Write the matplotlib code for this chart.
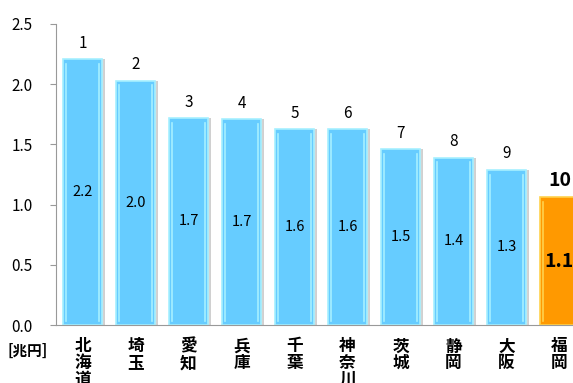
import matplotlib.pyplot as plt
import numpy as np

plt.rcParams['font.family'] = ['Noto Sans CJK JP', 'DejaVu Sans']

# 都道府県別の値（兆円）
prefs = ['北海道', '埼玉', '愛知', '兵庫', '千葉', '神奈川', '茨城', '静岡', '大阪', '福岡']
values = [2.21, 2.03, 1.72, 1.71, 1.63, 1.63, 1.46, 1.39, 1.29, 1.06]
ranks = [1, 2, 3, 4, 5, 6, 7, 8, 9, 10]
highlight = '福岡'

fig = plt.figure(figsize=(5.73, 3.83), dpi=100)
ax = fig.add_axes([56 / 573, 1 - 325 / 383, 530 / 573, 301 / 383])

x = np.arange(len(prefs))
w = 0.74
face = ['#FF9900' if p == highlight else '#66CCFF' for p in prefs]
rim = ['#FFD24D' if p == highlight else '#A6F0FF' for p in prefs]

# shadow on the right side of each bar
ax.bar(x + 0.06, values, w, color='#BDBDBD', alpha=0.7, zorder=1)
ax.bar(x + 0.03, values, w, color='#D5D5D5', alpha=0.7, zorder=1)
ax.bar(x, values, w, color=face, edgecolor=rim, linewidth=1.2, zorder=2)
# bevel highlight lines
for xi, v, r in zip(x, values, rim):
    ax.plot([xi - w / 2 + 0.06] * 2, [0.03, v - 0.04], color=r, lw=1.2, zorder=3)
    ax.plot([xi + w / 2 - 0.06] * 2, [0.03, v - 0.04], color=r, lw=1.2, zorder=3)

for xi, v, r, p in zip(x, values, ranks, prefs):
    big = p == highlight
    ax.text(xi, v + 0.06, str(r), ha='center', va='bottom',
            fontsize=14 if big else 11, fontweight='bold' if big else 'normal',
            color='black', zorder=4)
    ax.text(xi, v / 2, f'{v:.1f}', ha='center', va='center',
            fontsize=14 if big else 10.5, fontweight='bold' if big else 'normal',
            color='black', zorder=4)

ax.set_xlim(-0.5, len(prefs) - 0.5)
ax.set_ylim(0, 2.5)
ax.set_yticks(np.arange(0, 2.51, 0.5))
ax.set_yticklabels([f'{t:.1f}' for t in np.arange(0, 2.51, 0.5)], fontsize=11)
ax.tick_params(axis='y', length=4, color='#999999', pad=13)
ax.set_xticks(x)
ax.set_xticklabels(['\n'.join(p) for p in prefs], fontsize=12, fontweight='bold',
                   linespacing=0.9, va='top')
ax.tick_params(axis='x', length=0, pad=9)
for s in ['top', 'right']:
    ax.spines[s].set_visible(False)
for s in ['left', 'bottom']:
    ax.spines[s].set_color('#999999')

fig.text(28 / 573, 1 - 351 / 383, '[兆円]', ha='center', va='center',
         fontsize=10.5, fontweight='bold')

fig.savefig('out.png', dpi=100)
